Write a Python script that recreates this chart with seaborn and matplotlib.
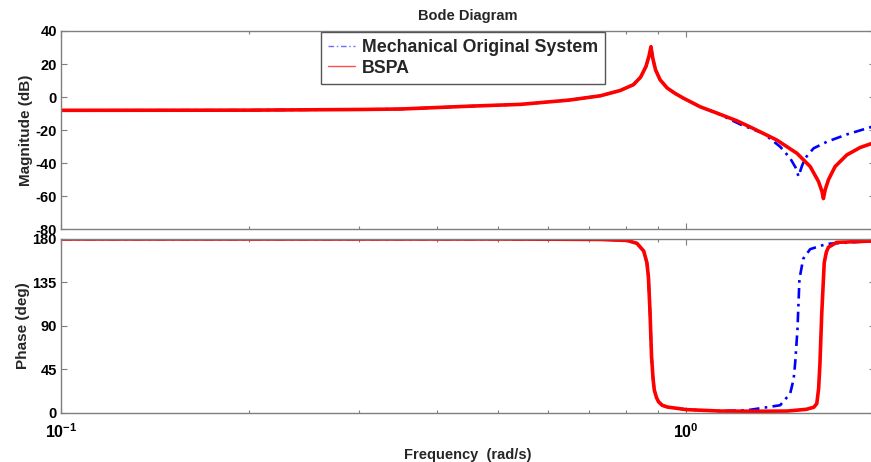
import matplotlib
matplotlib.use("Agg")
import numpy as np
import pandas as pd
import seaborn as sns
import matplotlib.pyplot as plt
from matplotlib.ticker import FixedLocator, NullFormatter, FixedFormatter
from matplotlib.lines import Line2D

# ---------------- data ----------------
series_names = ["Mechanical Original System", "BSPA"]

# magnitude (dB)
bspa_mag_freq = [0.1, 0.2, 0.3, 0.35, 0.45, 0.543, 0.65, 0.729, 0.784, 0.823, 0.845,
                 0.862, 0.872, 0.878, 0.884, 0.893, 0.908, 0.932, 0.96, 0.989, 1.053,
                 1.12, 1.206, 1.28, 1.396, 1.503, 1.578, 1.627, 1.648, 1.657, 1.668,
                 1.688, 1.73, 1.806, 1.897, 2.0]
bspa_mag_db = [-8.0, -7.9, -7.5, -7.2, -5.5, -4.4, -1.8, 0.8, 4.0, 7.5, 12.0,
               18.5, 25.0, 30.5, 23.5, 16.5, 10.5, 5.5, 2.2, -0.6, -5.9,
               -9.7, -14.4, -19.0, -26.0, -34.0, -42.0, -51.0, -57.0, -61.4, -56.0,
               -50.0, -42.0, -35.0, -30.5, -27.5]

orig_mag_freq = [0.1, 0.2, 0.3, 0.35, 0.45, 0.543, 0.65, 0.729, 0.784, 0.823, 0.845,
                 0.862, 0.872, 0.878, 0.884, 0.893, 0.908, 0.932, 0.96, 0.989, 1.053,
                 1.12, 1.22, 1.329, 1.413, 1.466, 1.495, 1.512, 1.53, 1.549, 1.598,
                 1.679, 1.806, 2.0]
orig_mag_db = [-8.0, -7.9, -7.5, -7.2, -5.5, -4.4, -1.8, 0.8, 4.0, 7.5, 12.0,
               18.5, 25.0, 30.5, 23.5, 16.5, 10.5, 5.5, 2.2, -0.6, -5.9,
               -9.7, -16.5, -22.0, -30.0, -37.0, -42.5, -48.0, -42.0, -37.0, -31.0,
               -27.0, -22.6, -17.5]

# phase (deg)
bspa_ph_freq = [0.1, 0.5, 0.6, 0.729, 0.804, 0.834, 0.855, 0.865, 0.87, 0.875, 0.88,
                0.885, 0.889, 0.896, 0.903, 0.915, 0.932, 1.0, 1.133, 1.3, 1.45,
                1.556, 1.6, 1.617, 1.628, 1.636, 1.647, 1.662, 1.675, 1.688, 1.74, 2.0]
bspa_ph_deg = [179.5, 179.5, 179.3, 179.0, 178.0, 175.0, 167.0, 155.0, 140.0, 104.0, 58.0,
               35.0, 23.6, 16.0, 11.5, 8.0, 6.2, 3.5, 2.0, 1.8, 2.0,
               3.8, 6.0, 9.7, 25.0, 51.0, 103.0, 155.0, 166.0, 171.0, 176.0, 177.5]

orig_ph_freq = [0.1, 0.5, 0.6, 0.729, 0.804, 0.834, 0.855, 0.865, 0.87, 0.875, 0.88,
                0.885, 0.889, 0.896, 0.903, 0.915, 0.932, 1.0, 1.133, 1.25, 1.413,
                1.466, 1.485, 1.493, 1.506, 1.517, 1.538, 1.578, 1.679, 2.0]
orig_ph_deg = [179.5, 179.5, 179.3, 179.0, 178.0, 175.0, 167.0, 155.0, 140.0, 104.0, 58.0,
               35.0, 23.6, 16.0, 11.5, 8.0, 6.2, 3.5, 2.0, 2.8, 8.0,
               20.0, 35.0, 51.0, 86.0, 138.0, 159.0, 169.0, 174.5, 177.5]

mag_ticks = [40, 20, 0, -20, -40, -60, -80]
phase_ticks = [180, 135, 90, 45, 0]
freq_major = [0.1, 1.0]
freq_major_labels = [r"$\mathbf{10^{-1}}$", r"$\mathbf{10^{0}}$"]
freq_minor = [0.2, 0.3, 0.4, 0.5, 0.6, 0.7, 0.8, 0.9, 2.0]

# ---------------- style ----------------
sns.set_style("white")
plt.rcParams['font.family'] = ['Liberation Sans', 'DejaVu Sans']
plt.rcParams['font.weight'] = 'bold'
plt.rcParams['mathtext.fontset'] = 'custom'
plt.rcParams['mathtext.rm'] = 'Liberation Sans:bold'
plt.rcParams['mathtext.bf'] = 'Liberation Sans:bold'
plt.rcParams['mathtext.it'] = 'Liberation Sans:bold'

W, H = 871, 462
fig = plt.figure(figsize=(W / 100, H / 100), dpi=100)


def rect(l, t, r, b):
    return [l / W, 1 - b / H, (r - l) / W, (b - t) / H]


ax1 = fig.add_axes(rect(61, 31, 874.5, 229.3))
ax2 = fig.add_axes(rect(61, 238.5, 874.5, 413))

blue_style = dict(color="#0000ff", linewidth=1.9, linestyle=(0, (4, 2, 1, 2)))
red_style = dict(color="#ff0000", linewidth=2.6, linestyle="-")

sns.lineplot(x=orig_mag_freq, y=orig_mag_db, ax=ax1, estimator=None, sort=False, **blue_style)
sns.lineplot(x=bspa_mag_freq, y=bspa_mag_db, ax=ax1, estimator=None, sort=False, **red_style)
sns.lineplot(x=orig_ph_freq, y=orig_ph_deg, ax=ax2, estimator=None, sort=False, **blue_style)
sns.lineplot(x=bspa_ph_freq, y=bspa_ph_deg, ax=ax2, estimator=None, sort=False, **red_style)

spine_col = "#7f7f7f"
for ax in (ax1, ax2):
    ax.set_xscale("log")
    ax.set_xlim(0.1, 2.0)
    ax.xaxis.set_major_locator(FixedLocator(freq_major))
    ax.xaxis.set_minor_locator(FixedLocator(freq_minor))
    ax.xaxis.set_minor_formatter(NullFormatter())
    for s in ax.spines.values():
        s.set_color(spine_col)
        s.set_linewidth(1.0)
        s.set_visible(True)
    ax.tick_params(which="major", direction="in", length=4, width=0.8, color=spine_col,
                   top=True, bottom=True, left=True, right=True,
                   labelsize=10.5, labelcolor="black", pad=3)
    ax.tick_params(which="minor", direction="in", length=2.5, width=0.8, color=spine_col,
                   top=True, bottom=True, left=False, right=False)
    ax.grid(False)

ax1.set_ylim(-80, 40)
ax1.set_yticks(mag_ticks)
ax1.set_yticklabels([str(t) for t in mag_ticks], fontweight="bold")
ax1.xaxis.set_major_formatter(NullFormatter())
ax1.set_ylabel("Magnitude (dB)", fontsize=11, fontweight="bold")
ax1.yaxis.set_label_coords((33 - 61) / 813.5, 0.5)
ax1.set_xlabel("")
ax1.set_title("Bode Diagram", fontsize=10.5, fontweight="bold", pad=8)

ax2.set_ylim(0, 180)
ax2.set_yticks(phase_ticks)
ax2.set_yticklabels([str(t) for t in phase_ticks], fontweight="bold")
ax2.xaxis.set_major_formatter(FixedFormatter(freq_major_labels))
ax2.tick_params(axis="x", which="major", labelsize=11.5, pad=7)
ax2.set_ylabel("Phase (deg)", fontsize=11, fontweight="bold")
ax2.yaxis.set_label_coords((30 - 61) / 813.5, 0.5)
ax2.set_xlabel("Frequency  (rad/s)", fontsize=10.5, fontweight="bold", labelpad=5)

handles = [Line2D([], [], color="#6b6bff", linewidth=1.0, linestyle=(0, (4, 2, 1, 2))),
           Line2D([], [], color="#ff5050", linewidth=1.0)]
leg = ax1.legend(handles, series_names, loc="upper left",
                 bbox_to_anchor=(321 / W, 1 - 32 / H), bbox_transform=fig.transFigure,
                 borderaxespad=0, frameon=True, fancybox=False, framealpha=1,
                 edgecolor="#555555", prop={"weight": "bold", "size": 12.8},
                 handlelength=1.5, handletextpad=0.4, borderpad=0.4, labelspacing=0.2)
leg.get_frame().set_linewidth(1.0)

fig.savefig("out.png", dpi=100)
